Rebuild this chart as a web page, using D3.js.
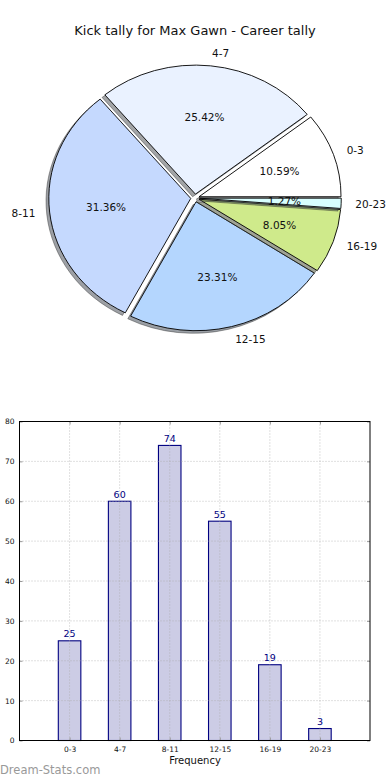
<!DOCTYPE html>
<html>
<head>
<meta charset="utf-8">
<script src="https://cdnjs.cloudflare.com/ajax/libs/d3/7.8.5/d3.min.js"></script>
<style>
  body { margin: 0; background: #fff; }
  svg { display: block; font-family: "DejaVu Sans", sans-serif; }
</style>
</head>
<body>
<svg width="390" height="780"></svg>
<script>
const categories = ['0-3', '4-7', '8-11', '12-15', '16-19', '20-23'];
const kicks = [25, 60, 74, 55, 19, 3];
const sliceColors = ['#ffffff', '#eaf2ff', '#c5d9fe', '#b4d6fe', '#cfea8b', '#d8ffff'];
const yTicks = [0, 10, 20, 30, 40, 50, 60, 70, 80];

const svg = d3.select('svg');
const data = categories.map((c, i) => ({ cat: c, value: kicks[i], color: sliceColors[i] }));

// ---- pie (matplotlib style: starts at 3 o'clock, counterclockwise, not equal axes) ----
const cx = 195, cy = 198, rx = 142, ry = 129, explode = 0.03;
const total = d3.sum(kicks);

svg.append('text')
  .attr('x', 195).attr('y', 30)
  .attr('text-anchor', 'middle').attr('dominant-baseline', 'central')
  .attr('font-size', 13).attr('fill', '#111')
  .text('Kick tally for Max Gawn - Career tally');

const pie = d3.pie().value(d => d.value).sort(null)
  .startAngle(Math.PI / 2).endAngle(Math.PI / 2 - 2 * Math.PI);
const arcs = pie(data);
const arc = d3.arc().innerRadius(0).outerRadius(1);

const pieG = svg.append('g');
arcs.forEach(a => {
  const m = (a.startAngle + a.endAngle) / 2;
  const ox = explode * rx * Math.sin(m), oy = -explode * ry * Math.cos(m);
  const c = d3.rgb(a.data.color);
  // shadow
  pieG.append('path')
    .attr('d', arc(a))
    .attr('transform', `translate(${cx + ox - 2.8},${cy + oy + 2.6}) scale(${rx},${ry})`)
    .attr('fill', d3.rgb(c.r * 0.3, c.g * 0.3, c.b * 0.3))
    .attr('fill-opacity', 0.5)
    .attr('stroke', '#222').attr('stroke-opacity', 0.4)
    .attr('stroke-width', 1).attr('vector-effect', 'non-scaling-stroke');
  pieG.append('path')
    .attr('d', arc(a))
    .attr('transform', `translate(${cx + ox},${cy + oy}) scale(${rx},${ry})`)
    .attr('fill', a.data.color)
    .attr('stroke', '#000').attr('stroke-width', 0.9)
    .attr('vector-effect', 'non-scaling-stroke');
});

arcs.forEach(a => {
  const m = (a.startAngle + a.endAngle) / 2;
  const s = Math.sin(m), k = -Math.cos(m);
  const ox = explode * rx * s, oy = explode * ry * k;
  const lx = cx + ox + 1.1 * rx * s, ly = cy + oy + 1.1 * ry * k;
  pieG.append('text')
    .attr('x', lx).attr('y', ly)
    .attr('text-anchor', s > 0 ? 'start' : 'end')
    .attr('dominant-baseline', 'central')
    .attr('font-size', 10.5).attr('fill', '#111')
    .text(a.data.cat);
  pieG.append('text')
    .attr('x', cx + ox + 0.6 * rx * s).attr('y', cy + oy + 0.6 * ry * k)
    .attr('text-anchor', 'middle')
    .attr('dominant-baseline', 'central')
    .attr('font-size', 10.5).attr('fill', '#111')
    .text(d3.format('.2f')(a.data.value / total * 100) + '%');
});

// ---- bar chart ----
const plotL = 19.5, plotR = 370, plotT = 421.5, plotB = 740.5;
const x = d3.scaleLinear().domain([-1, 6]).range([plotL, plotR]);
const y = d3.scaleLinear().domain([0, 80]).range([plotB, plotT]);
const barW = x(0.45) - x(0);

const bg = svg.append('g');

bg.selectAll('rect.bar')
  .data(data)
  .join('rect')
  .attr('class', 'bar')
  .attr('x', (d, i) => x(i) - barW / 2)
  .attr('y', d => y(d.value))
  .attr('width', barW)
  .attr('height', d => y(0) - y(d.value))
  .attr('fill', '#ccccE5')
  .attr('stroke', '#000080').attr('stroke-width', 1.1);

// grid on top of bars
const grid = bg.append('g').attr('stroke', '#aaa').attr('stroke-opacity', 0.8)
  .attr('stroke-width', 0.9).attr('stroke-dasharray', '1,2');
grid.selectAll('line.h').data(yTicks.slice(1, -1)).join('line')
  .attr('x1', plotL).attr('x2', plotR)
  .attr('y1', d => y(d)).attr('y2', d => y(d));
grid.selectAll('line.v').data(categories).join('line')
  .attr('x1', (d, i) => x(i)).attr('x2', (d, i) => x(i))
  .attr('y1', plotT).attr('y2', plotB);

// axes
const xAxis = d3.axisBottom(x).tickValues(d3.range(categories.length))
  .tickFormat(i => categories[i]).tickSizeInner(-3).tickSizeOuter(0).tickPadding(6);
const yAxis = d3.axisLeft(y).tickValues(yTicks).tickSizeInner(-3).tickSizeOuter(0).tickPadding(5);
const xAxisTop = d3.axisTop(x).tickValues(d3.range(categories.length))
  .tickFormat('').tickSizeInner(-3).tickSizeOuter(0);
const yAxisRight = d3.axisRight(y).tickValues(yTicks).tickFormat('').tickSizeInner(-3).tickSizeOuter(0);

function styleAxis(g) {
  g.select('.domain').remove();
  g.selectAll('.tick line').attr('stroke', '#999');
  g.selectAll('.tick text').attr('font-size', 7.5).attr('fill', '#111')
    .attr('font-family', '"DejaVu Sans", sans-serif');
}
bg.append('g').attr('transform', `translate(0,${plotB})`).call(xAxis).call(styleAxis);
bg.append('g').attr('transform', `translate(${plotL},0)`).call(yAxis).call(styleAxis);
bg.append('g').attr('transform', `translate(0,${plotT})`).call(xAxisTop).call(styleAxis);
bg.append('g').attr('transform', `translate(${plotR},0)`).call(yAxisRight).call(styleAxis);

bg.append('rect')
  .attr('x', plotL).attr('y', plotT)
  .attr('width', plotR - plotL).attr('height', plotB - plotT)
  .attr('fill', 'none').attr('stroke', '#000').attr('stroke-width', 1);

bg.selectAll('text.val')
  .data(data)
  .join('text')
  .attr('class', 'val')
  .attr('x', (d, i) => x(i))
  .attr('y', d => y(d.value) - 3.5)
  .attr('text-anchor', 'middle')
  .attr('font-size', 9.5).attr('fill', '#000080')
  .text(d => d.value);

bg.append('text')
  .attr('x', 195).attr('y', 760)
  .attr('text-anchor', 'middle').attr('dominant-baseline', 'central')
  .attr('font-size', 10).attr('fill', '#111')
  .text('Frequency');

svg.append('text')
  .attr('x', 0).attr('y', 770)
  .attr('dominant-baseline', 'central')
  .attr('font-size', 11.5).attr('fill', '#999')
  .text('Dream-Stats.com');
</script>
</body>
</html>
